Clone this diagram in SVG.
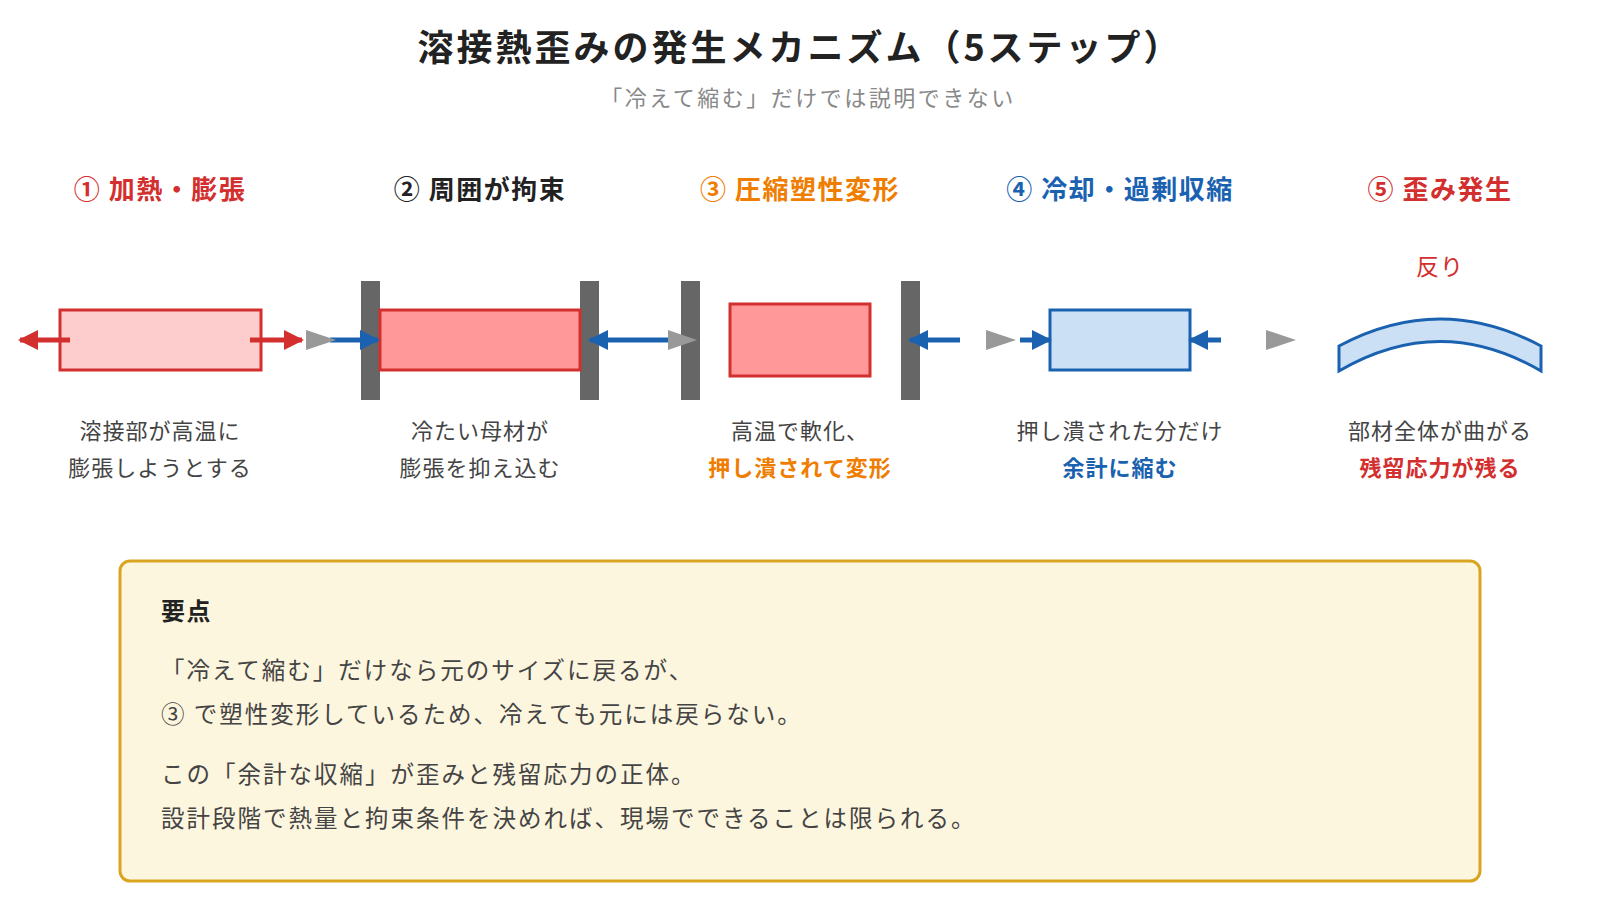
<svg xmlns="http://www.w3.org/2000/svg" width="1600" height="920" viewBox="0 0 1600 920">
<defs>
<style>
text{font-family:"Noto Sans CJK JP","Noto Sans",sans-serif;}
.t{font-size:36px;font-weight:bold;fill:#222;text-anchor:middle;letter-spacing:3px}
.sub{font-size:22px;fill:#888;text-anchor:middle;letter-spacing:2.5px}
.h{font-size:26px;font-weight:bold;text-anchor:middle;letter-spacing:1.5px}
.d{font-size:22px;fill:#444;text-anchor:middle;letter-spacing:1px}
.db{font-size:22px;font-weight:bold;text-anchor:middle;letter-spacing:1px}
.red{fill:#d32f2f}.org{fill:#ef7d00}.blu{fill:#1a62b0}.blk{fill:#222}
.wall{fill:#666}
.gt{fill:#999}
.la{stroke-width:5}
.p{font-size:23.5px;fill:#444;letter-spacing:2px}
</style>
<marker id="ar" viewBox="0 0 10 10" refX="9" refY="5" markerWidth="4" markerHeight="4" orient="auto-start-reverse"><path d="M0,0L10,5L0,10Z" fill="#d32f2f"/></marker>
<marker id="ab" viewBox="0 0 10 10" refX="9" refY="5" markerWidth="4" markerHeight="4" orient="auto-start-reverse"><path d="M0,0L10,5L0,10Z" fill="#1a62b0"/></marker>
</defs>
<rect width="1600" height="920" fill="#fff"/>
<text class="t" x="800" y="61">溶接熱歪みの発生メカニズム（5ステップ）</text>
<text class="sub" x="808" y="106">「冷えて縮む」だけでは説明できない</text>

<g id="step1">
<text class="h red" x="160" y="199">① 加熱・膨張</text>
<rect x="60" y="310" width="201" height="60" fill="#fdcccc" stroke="#d32f2f" stroke-width="3"/>
<text class="d" x="160" y="439">溶接部が高温に</text>
<text class="d" x="160" y="476">膨張しようとする</text>
</g>
<g id="step2">
<text class="h blk" x="480" y="199">② 周囲が拘束</text>
<rect class="wall" x="361" y="281" width="19" height="119"/>
<rect class="wall" x="580" y="281" width="19" height="119"/>
<rect x="380" y="310" width="200" height="60" fill="#ff9999" stroke="#d32f2f" stroke-width="3"/>
<text class="d" x="480" y="439">冷たい母材が</text>
<text class="d" x="480" y="476">膨張を抑え込む</text>
</g>
<g id="step3">
<text class="h org" x="800" y="199">③ 圧縮塑性変形</text>
<rect class="wall" x="681" y="281" width="19" height="119"/>
<rect class="wall" x="901" y="281" width="19" height="119"/>
<rect x="730" y="304" width="140" height="72" fill="#ff9999" stroke="#d32f2f" stroke-width="3"/>
<text class="d" x="800" y="439">高温で軟化、</text>
<text class="db org" x="800" y="476">押し潰されて変形</text>
</g>
<g id="step4">
<text class="h blu" x="1120" y="199">④ 冷却・過剰収縮</text>
<rect x="1050" y="310" width="140" height="60" fill="#cce0f5" stroke="#1a62b0" stroke-width="3"/>
<text class="d" x="1120" y="439">押し潰された分だけ</text>
<text class="db blu" x="1120" y="476">余計に縮む</text>
</g>
<g id="step5">
<text class="h red" x="1440" y="199">⑤ 歪み発生</text>
<text x="1440" y="275" font-size="23" fill="#d32f2f" text-anchor="middle" letter-spacing="1">反り</text>
<path d="M1339,346 Q1440,292 1541,346 L1541,371 Q1440,312 1339,371 Z" fill="#cce0f5" stroke="#1a62b0" stroke-width="3"/>
<text class="d" x="1440" y="439">部材全体が曲がる</text>
<text class="db red" x="1440" y="476">残留応力が残る</text>
</g>

<g id="connectors">
<line class="la" x1="70" y1="340" x2="20" y2="340" stroke="#d32f2f" marker-end="url(#ar)"/>
<line class="la" x1="250" y1="340" x2="302" y2="340" stroke="#d32f2f" marker-end="url(#ar)"/>
<line class="la" x1="330" y1="340" x2="378" y2="340" stroke="#1a62b0" marker-end="url(#ab)"/>
<line class="la" x1="680" y1="340" x2="590" y2="340" stroke="#1a62b0" marker-end="url(#ab)"/>
<line class="la" x1="960" y1="340" x2="910" y2="340" stroke="#1a62b0" marker-end="url(#ab)"/>
<line class="la" x1="1020" y1="340" x2="1050" y2="340" stroke="#1a62b0" marker-end="url(#ab)"/>
<line class="la" x1="1221" y1="340" x2="1190" y2="340" stroke="#1a62b0" marker-end="url(#ab)"/>
<path class="gt" d="M306,330L336,340L306,350Z"/>
<path class="gt" d="M668,330L697,340L668,350Z"/>
<path class="gt" d="M986,330L1016,340L986,350Z"/>
<path class="gt" d="M1266,330L1296,340L1266,350Z"/>
</g>

<g id="note">
<rect x="120" y="561" width="1360" height="320" rx="10" fill="#fdf6df" stroke="#d9a520" stroke-width="3"/>
<text x="161" y="620" font-size="24" font-weight="bold" fill="#222" letter-spacing="1.5">要点</text>
<text class="p" x="161" y="679">「冷えて縮む」だけなら元のサイズに戻るが、</text>
<text class="p" x="161" y="723">③ で塑性変形しているため、冷えても元には戻らない。</text>
<text class="p" x="161" y="783">この「余計な収縮」が歪みと残留応力の正体。</text>
<text class="p" x="161" y="827">設計段階で熱量と拘束条件を決めれば、現場でできることは限られる。</text>
</g>
</svg>
